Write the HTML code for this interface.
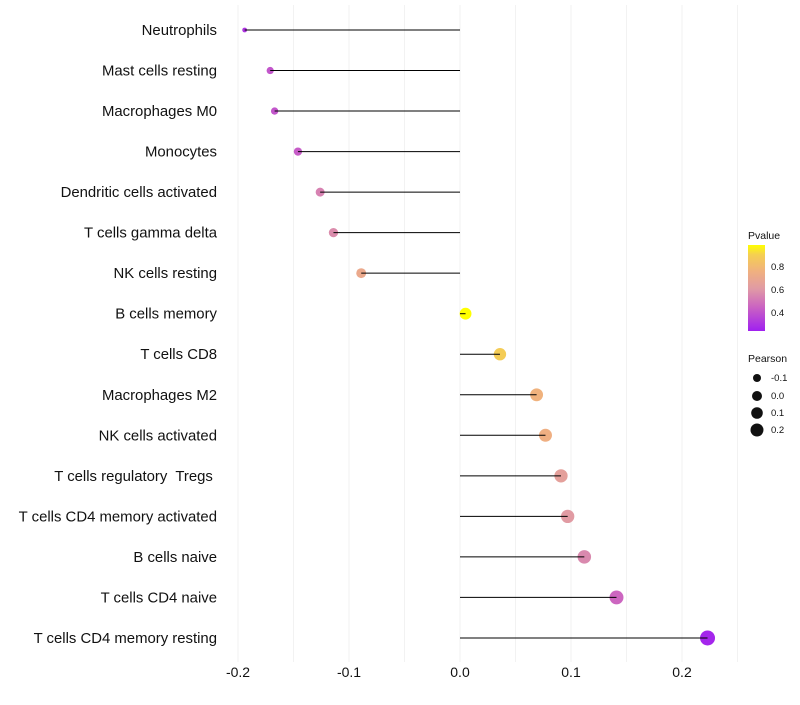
<!DOCTYPE html>
<html><head><meta charset="utf-8"><style>
body{margin:0;background:#fff;font-family:"Liberation Sans",sans-serif}
</style></head><body>
<svg id="chart" width="800" height="700" xmlns="http://www.w3.org/2000/svg">
<defs><linearGradient id="pg" x1="0" y1="1" x2="0" y2="0">
<stop offset="0" stop-color="#a020f0"/><stop offset="0.29" stop-color="#cc66c0"/><stop offset="0.49" stop-color="#e09aa5"/><stop offset="0.69" stop-color="#f0b080"/><stop offset="0.89" stop-color="#f5d050"/><stop offset="1" stop-color="#ffff00"/></linearGradient></defs>
<g id="grid"></g><g id="marks"></g><g id="labels"></g>
<g font-size="9.5" fill="#111">
<text x="748" y="239" font-size="10.5">Pvalue</text>
<rect x="748" y="245" width="17" height="86" fill="url(#pg)"/>
<text x="771" y="270">0.8</text><text x="771" y="293">0.6</text><text x="771" y="316">0.4</text>
</g>
<g font-size="9.5" fill="#111">
<text x="748" y="362" font-size="10.5">Pearson</text>
<circle cx="757" cy="378" r="4"/><text x="771" y="381">-0.1</text>
<circle cx="757" cy="396" r="5"/><text x="771" y="399">0.0</text>
<circle cx="757" cy="413" r="5.8"/><text x="771" y="416">0.1</text>
<circle cx="757" cy="430" r="6.5"/><text x="771" y="433">0.2</text>
</g>
</svg>
<script>
const categories=["Neutrophils","Mast cells resting","Macrophages M0","Monocytes","Dendritic cells activated","T cells gamma delta","NK cells resting","B cells memory","T cells CD8","Macrophages M2","NK cells activated","T cells regulatory  Tregs ","T cells CD4 memory activated","B cells naive","T cells CD4 naive","T cells CD4 memory resting"];
const pearson=[-0.194,-0.171,-0.167,-0.146,-0.126,-0.114,-0.089,0.005,0.036,0.069,0.077,0.091,0.097,0.112,0.141,0.223];
const pvalue=[0.3,0.4,0.4,0.42,0.53,0.56,0.7,0.98,0.88,0.76,0.74,0.64,0.61,0.55,0.45,0.25];
const xTicks=[-0.2,-0.1,0,0.1,0.2];
const xTickLabels=["-0.2","-0.1","0.0","0.1","0.2"];
const NS="http://www.w3.org/2000/svg";
const x=v=>460+v*1110;
const y=i=>30+i*40.53;
const r=v=>2.4+Math.sqrt(Math.max(0,(v+0.194)/0.417))*5.1;
const stops=[[0.23,[160,32,240]],[0.45,[204,102,192]],[0.6,[224,154,165]],[0.75,[240,176,128]],[0.9,[245,208,80]],[0.98,[255,255,0]]];
function col(p){p=Math.max(0.23,Math.min(0.98,p));for(let k=0;k<stops.length-1;k++){const[a,A]=stops[k],[b,B]=stops[k+1];if(p<=b){const t=(p-a)/(b-a);return`rgb(${A.map((c,j)=>Math.round(c+(B[j]-c)*t))})`;}}return'rgb(255,255,0)';}
function mk(tag,at,parent){const e=document.createElementNS(NS,tag);for(const k in at)e.setAttribute(k,at[k]);parent.appendChild(e);return e;}
const grid=document.getElementById('grid'),marks=document.getElementById('marks'),labels=document.getElementById('labels');
for(let v=-0.2;v<=0.26;v+=0.05){const g=mk('line',{x1:x(v),x2:x(v),y1:5,y2:662,stroke:'#f2f2f2','stroke-width':1},grid);

}
xTicks.forEach((t,i)=>{const e=mk('text',{x:x(t),y:677,'text-anchor':'middle','font-size':14,fill:'#111'},labels);e.textContent=xTickLabels[i];

});
categories.forEach((c,i)=>{
const t=mk('text',{x:217,y:y(i)+5,'text-anchor':'end','font-size':14.9,fill:'#111',style:'white-space:pre'},labels);t.textContent=c;


const d=mk('circle',{cx:x(pearson[i]),cy:y(i),r:r(pearson[i]),fill:col(pvalue[i])},marks);


const l=mk('line',{x1:x(0),x2:x(pearson[i]),y1:y(i),y2:y(i),stroke:'#000','stroke-width':1},marks);


});
</script>
</body></html>
